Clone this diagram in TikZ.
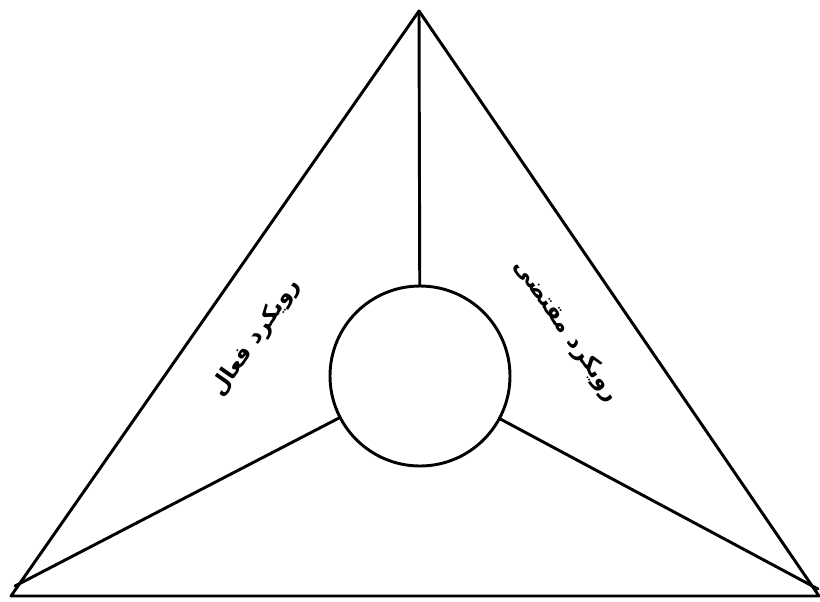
\documentclass[tikz,border=0pt]{standalone}
\usepackage{fontspec}
\TeXXeTstate=1
\newfontfamily\arabicfont[Script=Arabic]{DejaVu Sans}
\begin{document}
\begin{tikzpicture}[x=0.75pt,y=-0.75pt,
  edge/.style={line width=2.2pt,line cap=round,line join=round},
  hub/.style={circle,draw,line width=2.2pt,minimum size=135pt,inner sep=0pt},
  lbl/.style={font=\arabicfont\bfseries\fontsize{17}{20}\selectfont,inner sep=0pt}]
\useasboundingbox (0,0) rectangle (820,601);
\coordinate (apex) at (419,11);
\coordinate (bl) at (11,596);
\coordinate (br) at (819,596);
\coordinate (blc) at (15,586);
\coordinate (brc) at (818,589);
\node[hub] (c) at (420,376) {};
\draw[edge] (apex) -- (bl) -- (br) -- cycle;
\draw[edge] (c) -- (apex);
\draw[edge] (c) -- (blc);
\draw[edge] (c) -- (brc);
\node[lbl,rotate=55] (left) at (256,338) {\beginR رویکرد فعال\endR};
\node[lbl,rotate=-55] (right) at (566,331) {\beginR رویکرد مقتضی\endR};
\end{tikzpicture}
\end{document}
